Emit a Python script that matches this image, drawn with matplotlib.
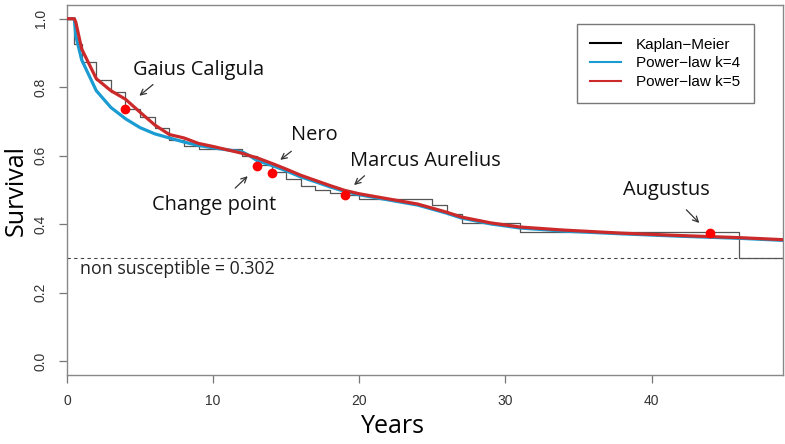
import matplotlib
matplotlib.use("Agg")
import matplotlib.pyplot as plt

# Kaplan-Meier step estimate (time of drop, survival after drop)
km_time = [0, 0.5, 1, 2, 3, 4, 5, 6, 7, 8, 9, 12, 13, 14, 15, 16, 17, 18, 19, 20,
           25, 26, 27, 31, 46, 49]
km_surv = [1.0, 0.926, 0.873, 0.820, 0.787, 0.736, 0.714, 0.680, 0.646, 0.628, 0.619,
           0.600, 0.574, 0.552, 0.532, 0.513, 0.499, 0.492, 0.486, 0.474,
           0.455, 0.430, 0.404, 0.377, 0.302, 0.302]

# fitted power-law curves
pl_time = [0, 0.5, 0.6, 1, 2, 3, 4, 5, 6, 7, 8, 9, 10, 11, 12, 12.5, 13, 14, 15, 16,
           17, 18, 19, 20, 22, 24, 26, 27, 29, 31, 34, 38, 42, 46, 49]
k4_surv = [1.0, 1.0, 0.95, 0.88, 0.79, 0.741, 0.708, 0.682, 0.664, 0.652, 0.640, 0.630,
           0.623, 0.617, 0.611, 0.600, 0.586, 0.572, 0.556, 0.538, 0.524, 0.509,
           0.496, 0.486, 0.471, 0.456, 0.432, 0.418, 0.401, 0.389, 0.380, 0.372,
           0.365, 0.359, 0.353]
k5_surv = [1.0, 1.0, 0.99, 0.912, 0.825, 0.790, 0.765, 0.727, 0.690, 0.662, 0.652, 0.636,
           0.627, 0.617, 0.607, 0.600, 0.594, 0.578, 0.561, 0.543, 0.528, 0.513,
           0.499, 0.489, 0.474, 0.459, 0.435, 0.421, 0.404, 0.392, 0.383, 0.374,
           0.367, 0.361, 0.355]

# highlighted emperors
point_time = [4, 13, 14, 19, 44]
point_surv = [0.736, 0.571, 0.550, 0.486, 0.375]

cure_fraction = 0.302

label_font = "Open Sans"
tick_font = "Liberation Sans"

fig = plt.figure(figsize=(7.85, 4.44), dpi=100)
ax = fig.add_axes([0.0854, 0.1554, 0.9121, 0.8333])

ax.step(km_time, km_surv, where="post", color="#555555", lw=0.9, zorder=2)
ax.plot(pl_time, k4_surv, color="#1a9cd3", lw=2.3, zorder=3)
ax.plot(pl_time, k5_surv, color="#cc2a2a", lw=2.3, zorder=4)
ax.plot(point_time, point_surv, "o", color="#ff0000", ms=6, zorder=5)

ax.axhline(cure_fraction, color="#444444", lw=0.8, ls=(0, (3, 3)), zorder=1)
ax.text(0.9, 0.268, "non susceptible = %.3f" % cure_fraction, fontsize=12.8,
        family=label_font, va="center", ha="left", color="#222222")

arrow = dict(arrowstyle="->", color="#333333", lw=0.9)
# label, text anchor, alignment, arrow tail, arrow head
notes = [
    ("Gaius Caligula", (4.53, 0.851), "left", (6.03, 0.813), (4.8, 0.770)),
    ("Nero", (15.36, 0.662), "left", (15.5, 0.618), (14.44, 0.583)),
    ("Change point", (14.35, 0.457), "right", (11.37, 0.50), (12.5, 0.546)),
    ("Marcus Aurelius", (19.35, 0.584), "left", (20.5, 0.547), (19.5, 0.509)),
    ("Augustus", (38.04, 0.50), "left", (42.25, 0.448), (43.4, 0.398)),
]
for name, pos, align, tail, head in notes:
    ax.annotate("", xy=head, xytext=tail, arrowprops=arrow)
    ax.text(pos[0], pos[1], name, fontsize=14.4, family=label_font,
            ha=align, va="center", color="#111111")

ax.set_xlim(0, 49)
ax.set_ylim(-0.04, 1.04)
ax.set_xticks([0, 10, 20, 30, 40])
ax.set_yticks([0.0, 0.2, 0.4, 0.6, 0.8, 1.0])
ax.set_yticklabels(["0.0", "0.2", "0.4", "0.6", "0.8", "1.0"], rotation=90, va="center")
ax.tick_params(length=6, width=0.9, color="#777777", pad=8, labelsize=10,
               labelcolor="#333333")
for lab in ax.get_xticklabels() + ax.get_yticklabels():
    lab.set_family(tick_font)
for sp in ax.spines.values():
    sp.set_color("#888888")
    sp.set_linewidth(1.0)

ax.set_xlabel("Years", fontsize=18, family=label_font)
ax.set_ylabel("Survival", fontsize=18, family=label_font)
ax.xaxis.set_label_coords(0.455, -0.105)
ax.yaxis.set_label_coords(-0.053, 0.5)

handles = [plt.Line2D([], [], color="black", lw=1.5),
           plt.Line2D([], [], color="#1a9cd3", lw=1.5),
           plt.Line2D([], [], color="#cc2a2a", lw=1.5)]
leg = ax.legend(handles, ["Kaplan\u2212Meier", "Power\u2212law k=4", "Power\u2212law k=5"],
                loc="upper right", bbox_to_anchor=(0.9595, 0.9486), borderaxespad=0,
                fancybox=False, edgecolor="#777777", framealpha=1,
                prop={"family": tick_font, "size": 11},
                handlelength=2.0, handletextpad=1.0, borderpad=0.9, labelspacing=0.3)
leg.get_frame().set_linewidth(1.0)

fig.savefig("out.png", dpi=100)
